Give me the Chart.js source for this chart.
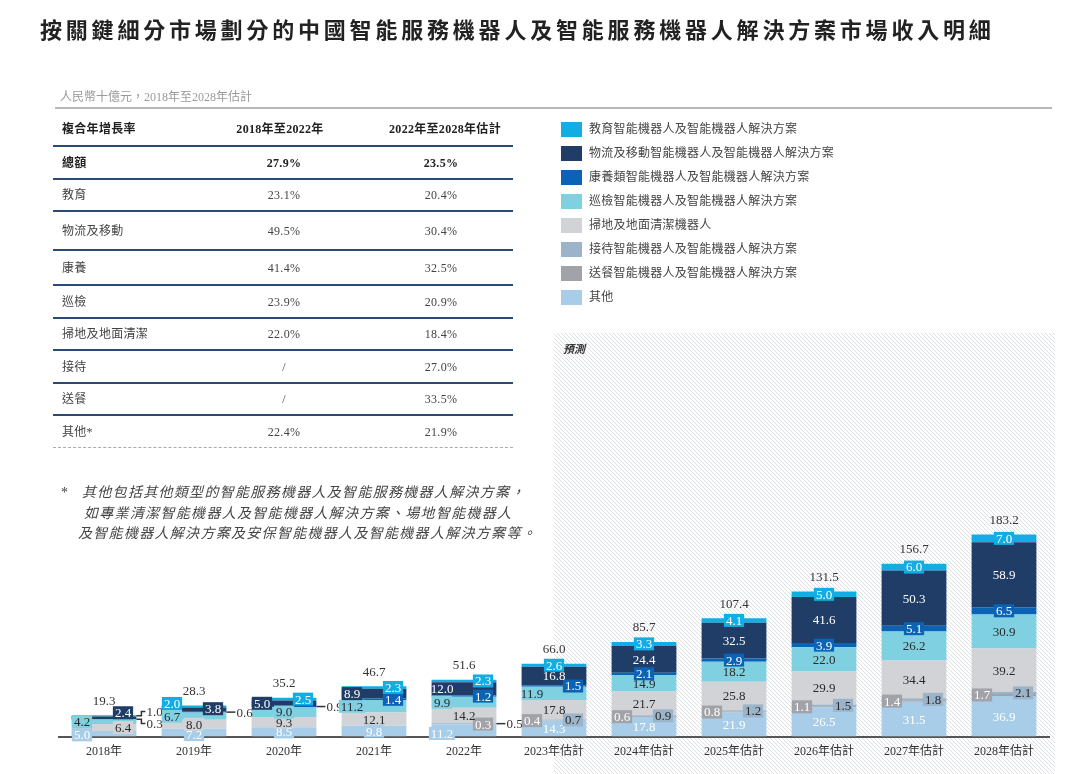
<!DOCTYPE html>
<html><head><meta charset="utf-8">
<script src="https://cdn.jsdelivr.net/npm/chart.js@4.4.1/dist/chart.umd.min.js"></script>
<style>
html,body{margin:0;padding:0;background:#fff;}
body{width:1080px;height:774px;position:relative;overflow:hidden;font-family:"Liberation Serif","Noto Sans CJK TC",serif;color:#333;}
#c{position:absolute;left:0;top:0;}
.a{position:absolute;white-space:nowrap;}
.title{left:40px;top:13px;font-size:22px;line-height:30px;font-weight:700;color:#222;letter-spacing:3.8px;font-family:"Noto Sans CJK TC",sans-serif;}
.sub{left:60px;top:89px;font-size:12px;line-height:16px;color:#9a9a9a;}
.rule{position:absolute;background:#2c4a78;height:2px;left:53px;width:460px;}
.cell{font-size:12px;line-height:18px;color:#444;letter-spacing:0.3px;}
.leg-box{position:absolute;width:21px;height:15px;left:561px;}
.leg-txt{left:589px;font-size:12px;line-height:16px;color:#444;letter-spacing:0.25px;}
.foot{font-size:14px;line-height:18px;font-style:italic;color:#444;letter-spacing:1.3px;}
</style>
</head><body>
<canvas id="c" width="1080" height="774"></canvas>
<div id="overlay"></div>
<script>
// ---------- data ----------
const categories = ['2018年','2019年','2020年','2021年','2022年','2023年估計','2024年估計','2025年估計','2026年估計','2027年估計','2028年估計'];
const others      = [5.0, 7.2, 8.5, 9.8, 11.2, 14.3, 17.8, 21.9, 26.5, 31.5, 36.9];
const delivery    = [0, 0, 0, 0, 0.3, 0.4, 0.6, 0.8, 1.1, 1.4, 1.7];
const reception   = [0, 0, 0, 0, 0.5, 0.7, 0.9, 1.2, 1.5, 1.8, 2.1];
const cleaning    = [6.4, 8.0, 9.3, 12.1, 14.2, 17.8, 21.7, 25.8, 29.9, 34.4, 39.2];
const inspection  = [4.2, 6.7, 9.0, 11.2, 9.9, 11.9, 14.9, 18.2, 22.0, 26.2, 30.9];
const healthcare  = [0.3, 0.6, 0.9, 1.4, 1.2, 1.5, 2.1, 2.9, 3.9, 5.1, 6.5];
const logistics   = [2.4, 3.8, 5.0, 8.9, 12.0, 16.8, 24.4, 32.5, 41.6, 50.3, 58.9];
const education   = [1.0, 2.0, 2.5, 2.3, 2.3, 2.6, 3.3, 4.1, 5.0, 6.0, 7.0];
const totals      = [19.3, 28.3, 35.2, 46.7, 51.6, 66.0, 85.7, 107.4, 131.5, 156.7, 183.2];

const legendNames = ['教育智能機器人及智能機器人解決方案','物流及移動智能機器人及智能機器人解決方案','康養類智能機器人及智能機器人解決方案','巡檢智能機器人及智能機器人解決方案','掃地及地面清潔機器人','接待智能機器人及智能機器人解決方案','送餐智能機器人及智能機器人解決方案','其他'];

const tableHeader = ['複合年增長率','2018年至2022年','2022年至2028年估計'];
const tableRows   = ['總額','教育','物流及移動','康養','巡檢','掃地及地面清潔','接待','送餐','其他*'];
const cagr1822    = ['27.9%','23.1%','49.5%','41.4%','23.9%','22.0%','/','/','22.4%'];
const cagr2228    = ['23.5%','20.4%','30.4%','32.5%','20.9%','18.4%','27.0%','33.5%','21.9%'];

const footnote = ['其他包括其他類型的智能服務機器人及智能服務機器人解決方案，','如專業清潔智能機器人及智能機器人解決方案、場地智能機器人','及智能機器人解決方案及安保智能機器人及智能機器人解決方案等。'];

// ---------- styles ----------
const series = [
  {name:'其他', data:others, color:'#a7cde9', text:'#ffffff'},
  {name:'送餐', data:delivery, color:'#a2a3a8', text:'#ffffff'},
  {name:'接待', data:reception, color:'#9cb4c9', text:'#2a2a2a'},
  {name:'掃地', data:cleaning, color:'#d2d3d7', text:'#2a2a2a'},
  {name:'巡檢', data:inspection, color:'#7fd1e2', text:'#2a2a2a'},
  {name:'康養', data:healthcare, color:'#0b63b5', text:'#ffffff'},
  {name:'物流', data:logistics, color:'#1f3d66', text:'#ffffff'},
  {name:'教育', data:education, color:'#12ade3', text:'#ffffff'}
];
// label placement: l=left, c=center, r=right, o=outside with leader, -=none
const labelPlacement = {
  '其他':['l','c','c','c','l','c','c','c','c','c','c'],
  '送餐':['-','-','-','-','r','l','l','l','l','l','l'],
  '接待':['-','-','-','-','o','r','r','r','r','r','r'],
  '掃地':['r','c','c','c','c','c','c','c','c','c','c'],
  '巡檢':['l','l','c','l','l','l','c','c','c','c','c'],
  '康養':['o','o','o','r','r','r','c','c','c','c','c'],
  '物流':['r','r','l','l','l','c','c','c','c','c','c'],
  '教育':['o','l','r','r','r','c','c','c','c','c','c']
};
// small vertical nudges (px) for crowded labels
const labelNudge = {'物流':{0:-5,1:-1},'教育':{1:-3},'其他':{0:1,1:2,4:3}};
const NUMFONT = '"Liberation Serif","Noto Sans CJK TC",serif';

// ---------- overlay html ----------
const ov = document.getElementById('overlay');
function add(cls, txt, style){const d=document.createElement('div');d.className='a '+cls;d.textContent=txt;Object.assign(d.style,style||{});ov.appendChild(d);return d;}
add('title','按關鍵細分市場劃分的中國智能服務機器人及智能服務機器人解決方案市場收入明細');
add('sub','人民幣十億元，2018年至2028年估計');
const gr=document.createElement('div');gr.className='a';Object.assign(gr.style,{left:'55px',top:'107px',width:'997px',height:'1.5px',background:'#b8b8b8'});ov.appendChild(gr);
// table
add('cell',tableHeader[0],{left:'62px',top:'120px',fontWeight:'700',color:'#222'});
add('cell',tableHeader[1],{left:'200px',top:'120px',width:'160px',textAlign:'center',fontWeight:'700',color:'#222'});
add('cell',tableHeader[2],{left:'365px',top:'120px',width:'160px',textAlign:'center',fontWeight:'700',color:'#222'});
const lineYs=[145,178,210,249,284,317,349,382,414,447];
lineYs.forEach((y,i)=>{
  const r=document.createElement('div');
  if(i===lineYs.length-1){r.className='a';Object.assign(r.style,{left:'53px',top:y+'px',width:'460px',height:'0',borderTop:'1px dashed #aaa'});}
  else{r.className='rule';r.style.top=y+'px';}
  ov.appendChild(r);
});
tableRows.forEach((name,i)=>{
  const cy=(lineYs[i]+lineYs[i+1])/2+1;
  const bold=i===0?{fontWeight:'700',color:'#222'}:{};
  add('cell',name,Object.assign({left:'62px',top:(cy-9)+'px'},bold));
  add('cell',cagr1822[i],Object.assign({left:'224px',top:(cy-9)+'px',width:'120px',textAlign:'center'},bold));
  add('cell',cagr2228[i],Object.assign({left:'381px',top:(cy-9)+'px',width:'120px',textAlign:'center'},bold));
});
// legend
const legendColors=series.map(s=>s.color).reverse();
legendNames.forEach((n,i)=>{
  const cy=129+i*24;
  const b=document.createElement('div');b.className='leg-box';b.style.top=(cy-7.5)+'px';b.style.background=legendColors[i];ov.appendChild(b);
  add('leg-txt',n,{top:(cy-8)+'px'});
});
// footnote
add('foot','*',{left:'61px',top:'484px',fontStyle:'normal'});
const footX=[82,84,78];
footnote.forEach((t,i)=>add('foot',t,{left:footX[i]+'px',top:(484+i*20.5)+'px'}));
add('',"預測",{left:'563px',top:'340px',fontSize:'11px',fontWeight:'700',fontStyle:'italic',color:'#333',fontFamily:'"Noto Sans CJK TC",sans-serif'});

// ---------- plugins ----------
const hatchPlugin={id:'hatch',beforeDraw(chart){
  const ctx=chart.ctx, xs=chart.scales.x;
  const p=document.createElement('canvas');p.width=4;p.height=4;
  const pc=p.getContext('2d');pc.strokeStyle='#dcdfe4';pc.lineWidth=1;
  pc.beginPath();pc.moveTo(-1,-1);pc.lineTo(5,5);pc.moveTo(-1,3);pc.lineTo(1,5);pc.moveTo(3,-1);pc.lineTo(5,1);pc.stroke();
  const x0=xs.getPixelForValue(5), x1=chart.chartArea.right+6;
  ctx.save();ctx.fillStyle=ctx.createPattern(p,'repeat');ctx.fillRect(x0,333,x1-x0,chart.height-333);ctx.restore();
}};
const labelPlugin={id:'seglabels',afterDatasetsDraw(chart){
  const ctx=chart.ctx;ctx.save();
  ctx.font='13px '+NUMFONT;ctx.textBaseline='middle';
  categories.forEach((cat,i)=>{
    const outs=[];let topY=Infinity,cx=0,half=0;
    series.forEach((s,di)=>{
      const el=chart.getDatasetMeta(di).data[i];
      const p=el.getProps(['x','y','base','width'],true);
      cx=p.x;half=p.width/2;topY=Math.min(topY,p.y);
      const mode=labelPlacement[s.name][i];
      const v=s.data[i];
      if(mode==='-'||!v)return;
      const nudge=(labelNudge[s.name]&&labelNudge[s.name][i])||0;
      const segY=(p.y+p.base)/2+nudge, segH=Math.abs(p.base-p.y);
      const txt=v.toFixed(1);
      if(mode==='o'){outs.push({txt,segY});return;}
      let x=p.x; if(mode==='l')x=p.x-22; if(mode==='r')x=p.x+19;
      const w=ctx.measureText(txt).width;
      if(segH<13){ctx.fillStyle=s.color;ctx.fillRect(x-w/2-2,segY-6.5,w+4,13);}
      ctx.fillStyle=s.text;ctx.textAlign='center';ctx.fillText(txt,x,segY+1);
    });
    // outside labels
    if(outs.length){
      outs.sort((a,b)=>a.segY-b.segY);
      const mid=outs.reduce((s,o)=>s+o.segY,0)/outs.length;
      outs.forEach((o,k)=>{
        const ly=outs.length>1?mid+(k-(outs.length-1)/2)*12:o.segY;
        const x0=cx+half;
        ctx.strokeStyle='#333';ctx.lineWidth=1.5;ctx.beginPath();ctx.moveTo(x0,o.segY);ctx.lineTo(x0+5,o.segY);ctx.lineTo(x0+5,ly);ctx.lineTo(x0+9,ly);ctx.stroke();
        ctx.fillStyle='#333';ctx.textAlign='left';ctx.fillText(o.txt,x0+10,ly+1);
      });
    }
    ctx.fillStyle='#333';ctx.textAlign='center';ctx.fillText(totals[i].toFixed(1),cx,topY-14);
  });
  ctx.restore();
}};

new Chart(document.getElementById('c'),{
  type:'bar',
  data:{labels:categories,datasets:series.map(s=>({label:s.name,data:s.data,backgroundColor:s.color,borderWidth:0,barPercentage:0.72,categoryPercentage:1}))},
  options:{
    responsive:false,animation:false,
    layout:{padding:{left:59,right:31,top:516,bottom:7}},
    plugins:{legend:{display:false},tooltip:{enabled:false}},
    scales:{
      x:{stacked:true,grid:{display:false,drawTicks:false},border:{display:true,color:'#555',width:2},
         ticks:{color:'#333',font:{family:NUMFONT,size:12},padding:8,maxRotation:0,autoSkip:false}},
      y:{stacked:true,display:false,min:0,max:200}
    }
  },
  plugins:[hatchPlugin,labelPlugin]
});
</script>
</body></html>
